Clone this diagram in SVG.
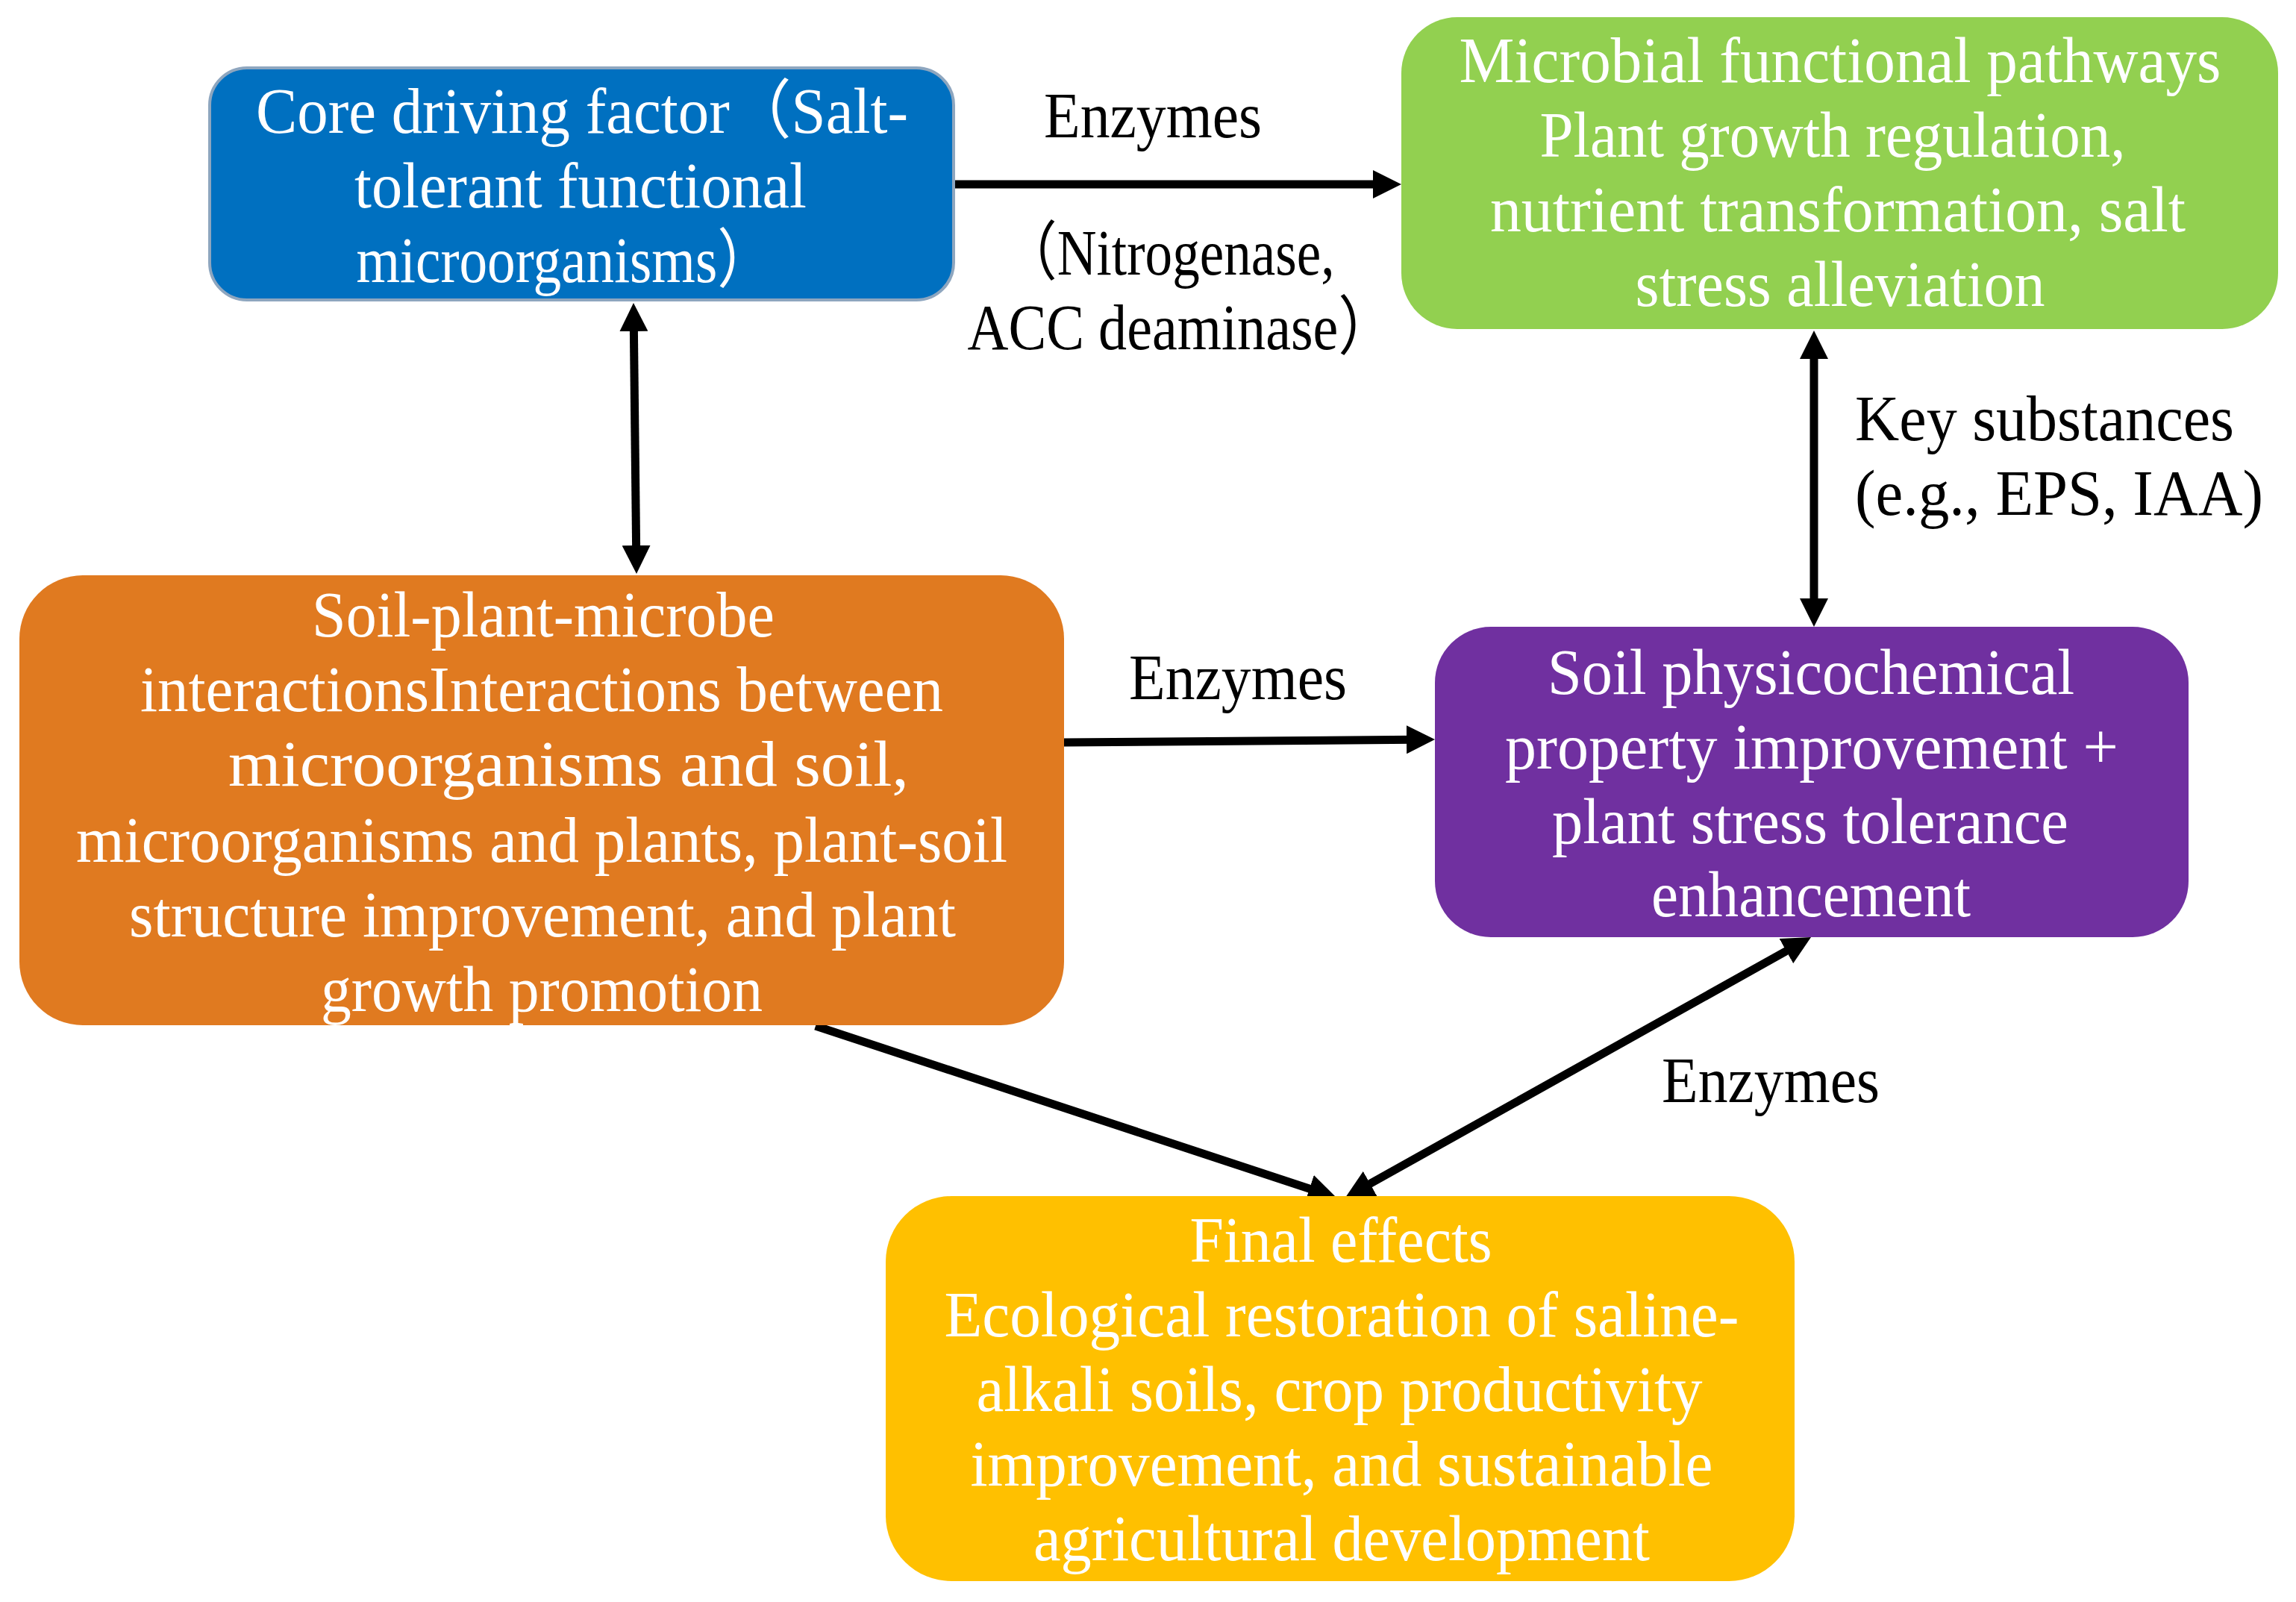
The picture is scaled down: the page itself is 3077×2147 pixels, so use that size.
<svg xmlns="http://www.w3.org/2000/svg" width="3077" height="2147" viewBox="0 0 3077 2147">
<style>
.w{font-family:"Liberation Serif","Noto Sans CJK SC",serif;font-size:86px;fill:#ffffff;text-anchor:middle}
.b{font-family:"Liberation Serif","Noto Sans CJK SC",serif;font-size:86px;fill:#000000;text-anchor:middle}
.bs{font-family:"Liberation Serif","Noto Sans CJK SC",serif;font-size:86px;fill:#000000;text-anchor:start}
.c{fill:none;stroke:#000;stroke-width:11}
</style>
<defs>
<marker id="ah" viewBox="0 0 38 38" markerWidth="38" markerHeight="38" refX="10" refY="19" orient="auto-start-reverse" markerUnits="userSpaceOnUse">
<path d="M0,0 L38,19 L0,38 z" fill="#000"/>
</marker>
</defs>
<rect width="3077" height="2147" fill="#fff"/>
<g id="connectors">
<line class="c" x1="1278" y1="247" x2="1850" y2="247" marker-end="url(#ah)"/>
<line class="c" x1="849.3" y1="434" x2="852.7" y2="741" marker-start="url(#ah)" marker-end="url(#ah)"/>
<line class="c" x1="1426" y1="995" x2="1895" y2="991.2" marker-end="url(#ah)"/>
<line class="c" x1="2431" y1="471" x2="2431" y2="812" marker-start="url(#ah)" marker-end="url(#ah)"/>
<line class="c" x1="1093" y1="1375" x2="1764.4" y2="1596.2" marker-end="url(#ah)"/>
<line class="c" x1="2402.6" y1="1269.7" x2="1827.4" y2="1591.3" marker-start="url(#ah)" marker-end="url(#ah)"/>
</g>
<g id="labels">
<text class="b" x="1545" y="184" textLength="292" lengthAdjust="spacingAndGlyphs">Enzymes</text>
<text class="b" x="1566" y="368" textLength="445" lengthAdjust="spacingAndGlyphs">（Nitrogenase,</text>
<text class="b" x="1583" y="468" textLength="573" lengthAdjust="spacingAndGlyphs">ACC deaminase）</text>
<text class="bs" x="2486" y="590" textLength="508" lengthAdjust="spacingAndGlyphs">Key substances</text>
<text class="bs" x="2486" y="690" textLength="547" lengthAdjust="spacingAndGlyphs">(e.g., EPS, IAA)</text>
<text class="b" x="1659" y="937" textLength="292" lengthAdjust="spacingAndGlyphs">Enzymes</text>
<text class="b" x="2373" y="1477" textLength="292" lengthAdjust="spacingAndGlyphs">Enzymes</text>
</g>
<g id="core">
<rect x="281" y="91" width="997" height="311" rx="50" fill="#0070C0" stroke="#8EA6BF" stroke-width="4"/>
<text class="w" x="780" y="178" textLength="874" lengthAdjust="spacingAndGlyphs">Core driving factor（Salt-</text>
<text class="w" x="778" y="278" textLength="606" lengthAdjust="spacingAndGlyphs">tolerant functional</text>
<text class="w" x="757" y="378" textLength="559" lengthAdjust="spacingAndGlyphs">microorganisms）</text>
</g>
<g id="pathways">
<rect x="1878" y="23" width="1175" height="418" rx="75" fill="#92D050"/>
<text class="w" x="2466" y="110" textLength="1021" lengthAdjust="spacingAndGlyphs">Microbial functional pathways</text>
<text class="w" x="2456" y="210" textLength="785" lengthAdjust="spacingAndGlyphs">Plant growth regulation,</text>
<text class="w" x="2463" y="310" textLength="932" lengthAdjust="spacingAndGlyphs">nutrient transformation, salt</text>
<text class="w" x="2466" y="410" textLength="549" lengthAdjust="spacingAndGlyphs">stress alleviation</text>
</g>
<g id="interactions">
<rect x="26" y="771" width="1400" height="603" rx="85" fill="#E07A20"/>
<text class="w" x="728" y="853" textLength="620" lengthAdjust="spacingAndGlyphs">Soil-plant-microbe</text>
<text class="w" x="726" y="953" textLength="1076" lengthAdjust="spacingAndGlyphs">interactionsInteractions between</text>
<text class="w" x="762" y="1053" textLength="912" lengthAdjust="spacingAndGlyphs">microorganisms and soil,</text>
<text class="w" x="726" y="1155" textLength="1248" lengthAdjust="spacingAndGlyphs">microorganisms and plants, plant-soil</text>
<text class="w" x="727" y="1255" textLength="1108" lengthAdjust="spacingAndGlyphs">structure improvement, and plant</text>
<text class="w" x="726" y="1355" textLength="592" lengthAdjust="spacingAndGlyphs">growth promotion</text>
</g>
<g id="soil">
<rect x="1923" y="840" width="1010" height="416" rx="75" fill="#7030A0"/>
<text class="w" x="2427" y="930" textLength="706" lengthAdjust="spacingAndGlyphs">Soil physicochemical</text>
<text class="w" x="2428" y="1030" textLength="822" lengthAdjust="spacingAndGlyphs">property improvement +</text>
<text class="w" x="2426" y="1130" textLength="692" lengthAdjust="spacingAndGlyphs">plant stress tolerance</text>
<text class="w" x="2427" y="1228" textLength="428" lengthAdjust="spacingAndGlyphs">enhancement</text>
</g>
<g id="final">
<rect x="1187" y="1603" width="1218" height="516" rx="88" fill="#FFC000"/>
<text class="w" x="1797" y="1691" textLength="405" lengthAdjust="spacingAndGlyphs">Final effects</text>
<text class="w" x="1798" y="1791" textLength="1065" lengthAdjust="spacingAndGlyphs">Ecological restoration of saline-</text>
<text class="w" x="1795" y="1891" textLength="973" lengthAdjust="spacingAndGlyphs">alkali soils, crop productivity</text>
<text class="w" x="1798" y="1991" textLength="995" lengthAdjust="spacingAndGlyphs">improvement, and sustainable</text>
<text class="w" x="1798" y="2091" textLength="826" lengthAdjust="spacingAndGlyphs">agricultural development</text>
</g>
</svg>
